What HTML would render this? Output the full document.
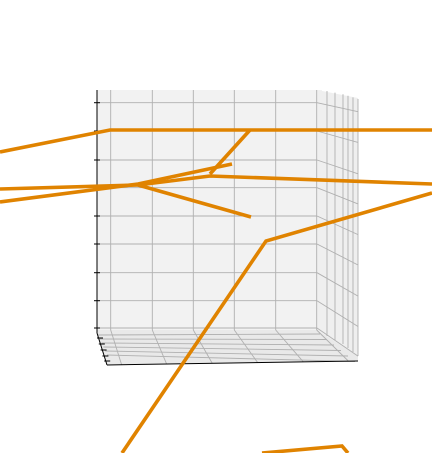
<!DOCTYPE html>
<html><head><meta charset="utf-8"><style>
html,body{margin:0;padding:0;background:#fff;}
svg{display:block;}
</style></head><body>
<svg width="432" height="453" viewBox="0 0 432 453" xmlns="http://www.w3.org/2000/svg">
<g id="panes">
  <polygon points="97,90 322,90 322,330 97,330" fill="#f2f2f2"/>
  <polygon points="317,90 358,98 358,356 317,330" fill="#efefef"/>
  <polygon points="97,330 317,330 358,356 358,361 107,365" fill="#e9e9e9"/>
</g>
<g id="grid" stroke="#b0b0b0" stroke-width="0.9" fill="none"></g>
<g id="axis" stroke="#000" stroke-width="1" fill="none"></g>
<g id="series" stroke="#e08300" stroke-width="3.6" fill="none" stroke-linecap="butt" stroke-linejoin="miter"></g>
</svg>
<script>
// tick levels (z axis) and x grid positions, as screen-projected values
const zTicks = [102.7, 131, 160, 187.7, 216, 244, 272.7, 300.7, 328];
const xTicks = [110.7, 152.3, 193.3, 234.3, 275.7, 316.7];
const xFront = [121.7, 166.7, 212.3, 257.7, 303.3, 348.3];
const sideX = [327, 335, 343, 348, 353, 358];
const floorY = [333, 337, 341, 345, 349, 353];
// series polylines (projected points)
const seriesA = [[0,152],[110,130],[432,130]];
const seriesB = [[250,130],[210,174]];
const seriesC = [[0,202],[138,184],[232,164]];
const seriesD = [[0,189],[138,185],[210,176],[432,184]];
const seriesE = [[138,185],[251,217]];
const seriesF = [[432,193],[266,241],[122,453]];
const seriesG = [[262,453],[342,446],[348,453]];
const allSeries = [seriesA, seriesB, seriesC, seriesD, seriesE, seriesF, seriesG];

const NS = "http://www.w3.org/2000/svg";
function line(g, x1, y1, x2, y2, name) {
  const l = document.createElementNS(NS, "line");
  l.setAttribute("x1", x1); l.setAttribute("y1", y1);
  l.setAttribute("x2", x2); l.setAttribute("y2", y2);
  
  
  g.appendChild(l);
}
const grid = document.getElementById("grid");
zTicks.forEach(y => {
  line(grid, 97, y, 317, y, "grid-line-horizontal");
  const ry = y + 9 + (y - 103) * 0.085;
  line(grid, 317, y, 358, ry, "grid-line-side");
});
xTicks.forEach((x, i) => {
  line(grid, x, 90, x, 330, "grid-line-vertical");
  line(grid, x, 330, xFront[i], 365 - i * 0.8, "grid-line-floor");
});
sideX.forEach((x, i) => {
  line(grid, x, 91 + i * 1.6, x, 336 + i * 4, "grid-line-side-vertical");
});
floorY.forEach((y, i) => {
  line(grid, 98 + i * 1.8, y + 2, 320 + i * 7, y + 1 + i * 1.5, "grid-line-floor-depth");
});
const ax = document.getElementById("axis");
line(ax, 97, 90, 97, 333, "z-axis-line");
line(ax, 97, 333, 107, 365, "z-axis-foot");
line(ax, 107, 365, 358, 361, "x-axis-line");
zTicks.forEach(y => line(ax, 94, y, 100, y, "z-tick"));
[338, 344, 350, 356, 361].forEach((y, i) => line(ax, 97 + i * 1.8, y, 103 + i * 1.8, y, "z-tick-lower"));
const sg = document.getElementById("series");
allSeries.forEach((s, i) => {
  const p = document.createElementNS(NS, "polyline");
  p.setAttribute("points", s.map(q => q.join(",")).join(" "));
  
  
  sg.appendChild(p);
});
</script>
</body></html>
